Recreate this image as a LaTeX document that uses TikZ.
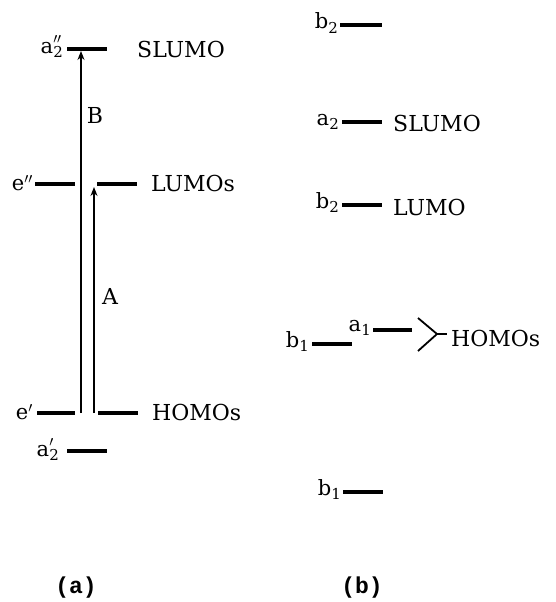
\documentclass[tikz,border=0pt]{standalone}
\usepackage{fontspec}
\setmainfont{DejaVu Serif}
\newfontfamily\capfont{Liberation Mono}
\usetikzlibrary{arrows.meta}
% orbital symbol: letter, subscript, superscript marks
\newcommand\subsz{\fontsize{15}{15}\selectfont}
\newcommand\pp{$^{\prime\prime}$}
\newcommand\p{$^{\prime}$}
\newcommand\orbital[3]{#1\rlap{\raisebox{-0.45ex}{\subsz #2}}\rlap{\raisebox{0.15ex}{#3}}\phantom{\subsz #2}}
\newcommand\orbitalp[2]{#1\raisebox{-0.1ex}{#2}}
\begin{document}
\begin{tikzpicture}[x=1pt,y=-1pt,
  level/.style={line width=3.2pt},
  trans/.style={line width=1.2pt,-{Stealth[length=9pt,width=7pt]}},
  brk/.style={line width=1.8pt},
  orb/.style={font=\fontsize{21}{21}\selectfont,inner sep=0pt},
  tag/.style={font=\fontsize{22}{22}\selectfont,inner sep=0pt},
  panel/.style={font=\capfont\bfseries\fontsize{23}{23}\selectfont,inner sep=0pt}]
\useasboundingbox (0,0) rectangle (556,602);

% ---------- (a) D3h levels ----------
\coordinate (sl1) at (67,49);   \coordinate (sl2) at (107,49);
\coordinate (el1) at (35,184);  \coordinate (el2) at (75,184);
\coordinate (lu1) at (97,184);  \coordinate (lu2) at (137,184);
\coordinate (ep1) at (37,413);  \coordinate (ep2) at (75,413);
\coordinate (ho1) at (98,413);  \coordinate (ho2) at (138,413);
\coordinate (ap1) at (67,451);  \coordinate (ap2) at (107,451);
\foreach \a/\b in {sl1/sl2,el1/el2,lu1/lu2,ep1/ep2,ho1/ho2,ap1/ap2}
  \draw[level] (\a) -- (\b);

\node[orb,anchor=base east] (lapp) at (63,53) {\orbital{a}{2}{\pp}};
\node[orb,anchor=base east] (lepp) at (33,190) {\orbitalp{e}{\pp}};
\node[orb,anchor=base east] (lep)  at (33,419) {\orbitalp{e}{\p}};
\node[orb,anchor=base east] (lap)  at (59,456) {\orbital{a}{2}{\p}};

\node[tag,anchor=base west] (tsl) at (137,57)  {SLUMO};
\node[tag,anchor=base west] (tlu) at (151,191) {LUMOs};
\node[tag,anchor=base west] (tho) at (152,420) {HOMOs};

% transitions
\coordinate (Bfoot) at (81,413); \coordinate (Btip) at (81,51);
\coordinate (Afoot) at (94,413); \coordinate (Atip) at (94,187);
\draw[trans] (Bfoot) -- (Btip);
\draw[trans] (Afoot) -- (Atip);
\node[tag] (tB) at (95,115) {B};
\node[tag] (tA) at (110,296) {A};

% ---------- (b) C2v levels ----------
\coordinate (b2t1) at (340,25);  \coordinate (b2t2) at (382,25);
\coordinate (a2l1) at (342,122); \coordinate (a2l2) at (382,122);
\coordinate (b2l1) at (342,205); \coordinate (b2l2) at (382,205);
\coordinate (b1m1) at (312,344); \coordinate (b1m2) at (352,344);
\coordinate (a1m1) at (373,330); \coordinate (a1m2) at (412,330);
\coordinate (b1b1) at (343,492); \coordinate (b1b2) at (383,492);
\foreach \a/\b in {b2t1/b2t2,a2l1/a2l2,b2l1/b2l2,b1m1/b1m2,a1m1/a1m2,b1b1/b1b2}
  \draw[level] (\a) -- (\b);

\node[orb,anchor=base east] (lb2t) at (338,29)  {\orbital{b}{2}{}};
\node[orb,anchor=base east] (la2)  at (339,125) {\orbital{a}{2}{}};
\node[orb,anchor=base east] (lb2)  at (339,208) {\orbital{b}{2}{}};
\node[orb,anchor=base east] (lb1m) at (309,347) {\orbital{b}{1}{}};
\node[orb,anchor=base east] (la1)  at (371,331) {\orbital{a}{1}{}};
\node[orb,anchor=base east] (lb1b) at (341,495) {\orbital{b}{1}{}};

\node[tag,anchor=base west] (tsl2) at (393,131) {SLUMO};
\node[tag,anchor=base west] (tlu2) at (393,215) {LUMO};

% bracket grouping the two HOMOs
\coordinate (bt) at (418,318); \coordinate (bb) at (418,351);
\coordinate (bx) at (437,334); \coordinate (bs) at (447,334);
\draw[brk] (bt) -- (bx) -- (bb);
\draw[brk] (bx) -- (bs);
\node[tag,anchor=base west] (tho2) at (451,346) {HOMOs};

% ---------- panel captions ----------
\node[panel] (pa) at (76,588) {(a)};
\node[panel] (pb) at (362,588) {(b)};
\end{tikzpicture}
\end{document}
